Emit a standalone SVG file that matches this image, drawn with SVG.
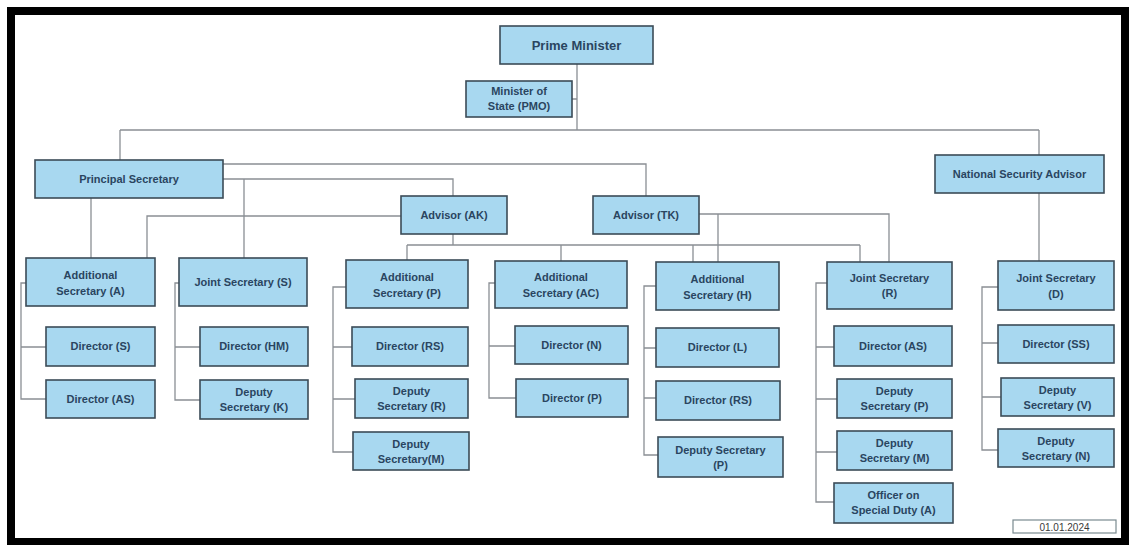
<svg xmlns="http://www.w3.org/2000/svg" width="1129" height="545" viewBox="0 0 1129 545">
<style>
.n{fill:#a8d8f0;stroke:#3b4b57;stroke-width:1.6}
.t{font-family:"Liberation Sans",Arial,sans-serif;font-size:11px;font-weight:bold;fill:#2a4560;text-anchor:middle}
.c{fill:none;stroke:#8a8f94;stroke-width:1.3}
</style>
<rect x="0" y="0" width="1129" height="545" fill="#ffffff"/>
<rect x="11" y="11" width="1114" height="531" fill="none" stroke="#000" stroke-width="8"/>
<g id="connectors" class="c">
<path d="M577 64V130M572 99H577"/>
<path d="M120 130H1039M120 130V160M1039 130V155"/>
<path d="M223 164H646V196"/>
<path d="M223 179H453V196M244 179V258"/>
<path d="M91 198V258"/>
<path d="M401 216H147V258"/>
<path d="M453 234V245M407 245H860M407 245V260M561 245V261M693 245V262M860 245V262"/>
<path d="M699 214H889V262M718 214V262"/>
<path d="M1039 193V261"/>
<path d="M26 283H21V399H46M21 347H46"/>
<path d="M179 283H175V400H200M175 347H200"/>
<path d="M346 287H333V452H353M333 347H352M333 399H355"/>
<path d="M495 283H489V398H516M489 346H515"/>
<path d="M656 286H644V455H658M644 348H656M644 398H656"/>
<path d="M827 283H816V502H834M816 347H834M816 399H837M816 452H837"/>
<path d="M998 287H982V450H998M982 343H998M982 397H1001"/>
</g>
<g id="pm"><rect class="n" x="500" y="26" width="153" height="38"/><text class="t" x="576.5" y="50" style="font-size:13px">Prime Minister</text></g>
<g id="mos"><rect class="n" x="466" y="81" width="106" height="36"/><text class="t" x="519" y="95">Minister of</text><text class="t" x="519" y="110">State (PMO)</text></g>
<g id="ps"><rect class="n" x="35" y="160" width="188" height="38"/><text class="t" x="129" y="183">Principal Secretary</text></g>
<g id="nsa"><rect class="n" x="935" y="155" width="169" height="38"/><text class="t" x="1019.5" y="178">National Security Advisor</text></g>
<g id="ak"><rect class="n" x="401" y="196" width="106" height="38"/><text class="t" x="454" y="219">Advisor (AK)</text></g>
<g id="tk"><rect class="n" x="593" y="196" width="106" height="38"/><text class="t" x="646" y="219">Advisor (TK)</text></g>
<g id="as-a"><rect class="n" x="26" y="258" width="129" height="48"/><text class="t" x="90.5" y="279">Additional</text><text class="t" x="90.5" y="295">Secretary (A)</text></g>
<g id="dir-s"><rect class="n" x="46" y="327" width="109" height="39"/><text class="t" x="100.5" y="350">Director (S)</text></g>
<g id="dir-as1"><rect class="n" x="46" y="380" width="109" height="38"/><text class="t" x="100.5" y="403">Director (AS)</text></g>
<g id="js-s"><rect class="n" x="179" y="258" width="128" height="48"/><text class="t" x="243" y="286">Joint Secretary (S)</text></g>
<g id="dir-hm"><rect class="n" x="200" y="327" width="108" height="39"/><text class="t" x="254" y="350">Director (HM)</text></g>
<g id="ds-k"><rect class="n" x="200" y="380" width="108" height="39"/><text class="t" x="254" y="396">Deputy</text><text class="t" x="254" y="411">Secretary (K)</text></g>
<g id="as-p"><rect class="n" x="346" y="260" width="122" height="48"/><text class="t" x="407" y="281">Additional</text><text class="t" x="407" y="297">Secretary (P)</text></g>
<g id="dir-rs1"><rect class="n" x="352" y="327" width="116" height="39"/><text class="t" x="410" y="350">Director (RS)</text></g>
<g id="ds-r"><rect class="n" x="355" y="379" width="113" height="39"/><text class="t" x="411.5" y="395">Deputy</text><text class="t" x="411.5" y="410">Secretary (R)</text></g>
<g id="ds-m1"><rect class="n" x="353" y="432" width="116" height="38"/><text class="t" x="411" y="448">Deputy</text><text class="t" x="411" y="463">Secretary(M)</text></g>
<g id="as-ac"><rect class="n" x="495" y="261" width="132" height="47"/><text class="t" x="561" y="281">Additional</text><text class="t" x="561" y="297">Secretary (AC)</text></g>
<g id="dir-n"><rect class="n" x="515" y="326" width="113" height="38"/><text class="t" x="571.5" y="349">Director (N)</text></g>
<g id="dir-p"><rect class="n" x="516" y="379" width="112" height="38"/><text class="t" x="572" y="402">Director (P)</text></g>
<g id="as-h"><rect class="n" x="656" y="262" width="123" height="48"/><text class="t" x="717.5" y="283">Additional</text><text class="t" x="717.5" y="299">Secretary (H)</text></g>
<g id="dir-l"><rect class="n" x="656" y="328" width="123" height="39"/><text class="t" x="717.5" y="351">Director (L)</text></g>
<g id="dir-rs2"><rect class="n" x="656" y="381" width="124" height="39"/><text class="t" x="718" y="404">Director (RS)</text></g>
<g id="ds-p1"><rect class="n" x="658" y="437" width="125" height="40"/><text class="t" x="720.5" y="454">Deputy Secretary</text><text class="t" x="720.5" y="469">(P)</text></g>
<g id="js-r"><rect class="n" x="827" y="262" width="125" height="47"/><text class="t" x="889.5" y="282">Joint Secretary</text><text class="t" x="889.5" y="297">(R)</text></g>
<g id="dir-as2"><rect class="n" x="834" y="326" width="118" height="40"/><text class="t" x="893" y="350">Director (AS)</text></g>
<g id="ds-p2"><rect class="n" x="837" y="379" width="115" height="39"/><text class="t" x="894.5" y="395">Deputy</text><text class="t" x="894.5" y="410">Secretary (P)</text></g>
<g id="ds-m2"><rect class="n" x="837" y="431" width="115" height="39"/><text class="t" x="894.5" y="447">Deputy</text><text class="t" x="894.5" y="462">Secretary (M)</text></g>
<g id="osd"><rect class="n" x="834" y="483" width="119" height="40"/><text class="t" x="893.5" y="499">Officer on</text><text class="t" x="893.5" y="514">Special Duty (A)</text></g>
<g id="js-d"><rect class="n" x="998" y="261" width="116" height="49"/><text class="t" x="1056" y="282">Joint Secretary</text><text class="t" x="1056" y="298">(D)</text></g>
<g id="dir-ss"><rect class="n" x="998" y="325" width="116" height="38"/><text class="t" x="1056" y="348">Director (SS)</text></g>
<g id="ds-v"><rect class="n" x="1001" y="378" width="113" height="38"/><text class="t" x="1057.5" y="394">Deputy</text><text class="t" x="1057.5" y="409">Secretary (V)</text></g>
<g id="ds-n"><rect class="n" x="998" y="429" width="116" height="38"/><text class="t" x="1056" y="445">Deputy</text><text class="t" x="1056" y="460">Secretary (N)</text></g>
<g id="date"><rect x="1013" y="520" width="103" height="13" fill="#fff" stroke="#7a8a90" stroke-width="1.2"/><text x="1064.5" y="530.5" style="font-family:'Liberation Sans',Arial,sans-serif;font-size:10px;fill:#3a3a3a;text-anchor:middle">01.01.2024</text></g>
</svg>
